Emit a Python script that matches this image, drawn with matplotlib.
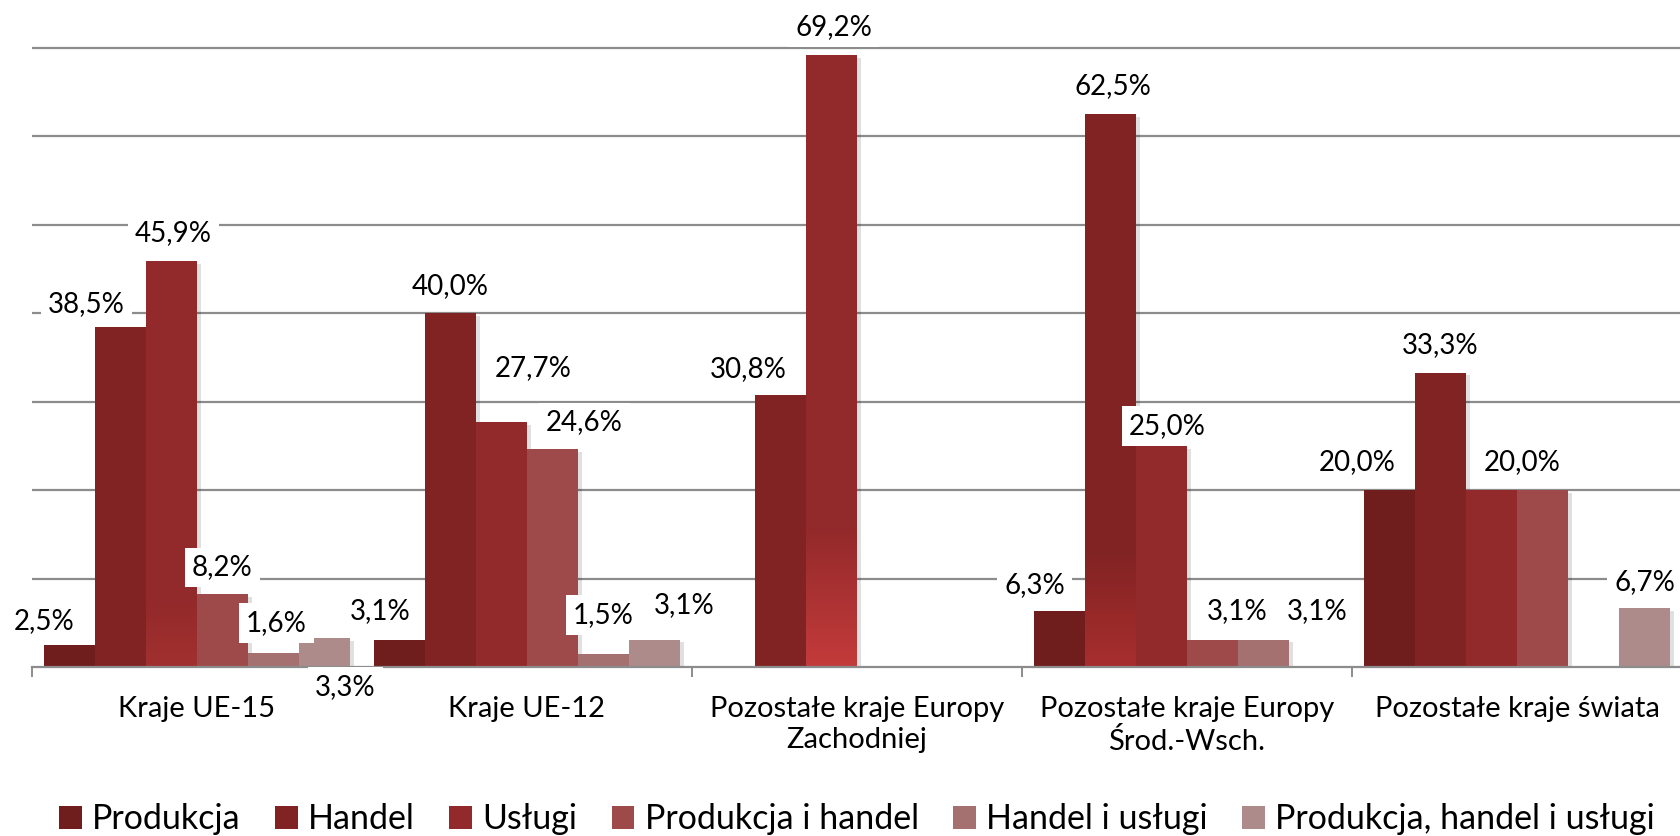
import numpy as np
import matplotlib
matplotlib.use("Agg")
import matplotlib.pyplot as plt
import matplotlib.patheffects as pe
from matplotlib.patches import Patch
from matplotlib.colors import to_rgb

plt.rcParams['font.family'] = ['Lato', 'DejaVu Sans']

# --- data ---------------------------------------------------------------
categories = ["Kraje UE-15", "Kraje UE-12",
              "Pozostałe kraje Europy\nZachodniej",
              "Pozostałe kraje Europy\nŚrod.-Wsch.",
              "Pozostałe kraje świata"]
series = ["Produkcja", "Handel", "Usługi", "Produkcja i handel",
          "Handel i usługi", "Produkcja, handel i usługi"]

produkcja = [2.5, 3.1, 0.0, 6.3, 20.0]
handel = [38.5, 40.0, 30.8, 62.5, 33.3]
uslugi = [45.9, 27.7, 69.2, 25.0, 20.0]
prod_handel = [8.2, 24.6, 0.0, 3.1, 20.0]
handel_uslugi = [1.6, 1.5, 0.0, 3.1, 0.0]
prod_handel_uslugi = [3.3, 3.1, 0.0, 0.0, 6.7]

values = [produkcja, handel, uslugi, prod_handel, handel_uslugi, prod_handel_uslugi]
colors = ["#6f1d1d", "#822323", "#92292a", "#9e4a4a", "#a57070", "#ad8b8b"]

# label offsets (px) from the top centre of a bar: (series, category) -> (dx, dy)
label_pos = {
    (0, 0): (-25, 26), (1, 0): (-34, 25), (2, 0): (2, 30), (3, 0): (0, 29),
    (4, 0): (3, 32), (5, 0): (21, -47),
    (0, 1): (-19, 31), (1, 1): (0, 29), (2, 1): (32, 56), (3, 1): (32, 29),
    (4, 1): (0, 41), (5, 1): (30, 37),
    (1, 2): (-32, 28), (2, 2): (2, 30),
    (0, 3): (-25, 28), (1, 3): (2, 30), (2, 3): (6, 22), (3, 3): (25, 31),
    (4, 3): (54, 31),
    (0, 4): (-32, 30), (1, 4): (0, 29), (2, 4): (31, 30), (5, 4): (0, 28),
}

# lighter glow at the foot of some bars: (series, category) -> (height, colour)
glow = {(2, 0): (8, "#a23030"), (2, 2): (16, "#c43b3b"), (1, 3): (13, "#a82e2e")}

# --- figure -------------------------------------------------------------
W, H = 1681, 836
fig = plt.figure(figsize=(W / 100, H / 100), dpi=100)
base_px, top_px = 667, 48
ppu = (base_px - top_px) / 70.0
ymax = 71
ax = fig.add_axes([32 / W, (H - base_px) / H, 1650 / W, ymax * ppu / H])

x = np.arange(len(categories))
w = 0.1545
shadow = [pe.SimplePatchShadow(offset=(3, -2), shadow_rgbFace="k", alpha=0.12), pe.Normal()]

for i, (vals, col) in enumerate(zip(values, colors)):
    xs = x + (i - 2.5) * w
    bars = ax.bar(xs, vals, w, color=col, zorder=3, linewidth=0)
    for b in bars:
        b.set_path_effects(shadow)
    for j, v in enumerate(vals):
        if (i, j) in glow:
            gh, gc = glow[(i, j)]
            c0, c1 = np.array(to_rgb(col)), np.array(to_rgb(gc))
            t = np.linspace(1, 0, 64)[:, None, None]
            img = c0 * (1 - t) + c1 * t
            ax.imshow(img, extent=[xs[j] - w / 2, xs[j] + w / 2, 0, gh],
                      origin="lower", aspect="auto", zorder=3.5)
        if (i, j) in label_pos:
            dx, dy = label_pos[(i, j)]
            ax.annotate(f"{v:.1f}%".replace(".", ","), xy=(xs[j], v),
                        xytext=(dx, dy - 10), textcoords="offset pixels",
                        ha="center", va="baseline", fontsize=20, color="black",
                        bbox=dict(boxstyle="square,pad=0.25", fc="white", ec="none"),
                        zorder=6, annotation_clip=False)

ax.set_xlim(-0.5, 4.5)
ax.set_ylim(0, ymax)

# grid and axis
ax.set_yticks(range(10, 71, 10))
ax.yaxis.grid(True, color="#8c8c8c", lw=1.6)
ax.set_axisbelow(True)
ax.tick_params(axis="y", length=0, labelleft=False)
for s in ["top", "left", "right"]:
    ax.spines[s].set_visible(False)
ax.spines["bottom"].set_color("#8c8c8c")
ax.spines["bottom"].set_linewidth(1.6)
ax.spines["bottom"].set_zorder(4)

ax.set_xticks(np.arange(-0.5, 5, 1.0))
ax.set_xticklabels([])
ax.tick_params(axis="x", which="major", length=7.2, width=1.4, color="#8c8c8c")
ax.set_xticks(x, minor=True)
ax.set_xticklabels(categories, minor=True, fontsize=21)
ax.tick_params(axis="x", which="minor", length=0, pad=21)
for lbl in ax.get_xticklabels(minor=True):
    lbl.set_linespacing(1.25)

handles = [Patch(facecolor=c, edgecolor="none") for c in colors]
fig.legend(handles, series, ncol=6, loc="center",
           bbox_to_anchor=(857 / W, 1 - 819 / H), frameon=False, fontsize=24.5,
           handlelength=0.66, handleheight=0.66, handletextpad=0.3,
           columnspacing=1.02, borderpad=0, borderaxespad=0)

fig.savefig("out.png", dpi=100)
